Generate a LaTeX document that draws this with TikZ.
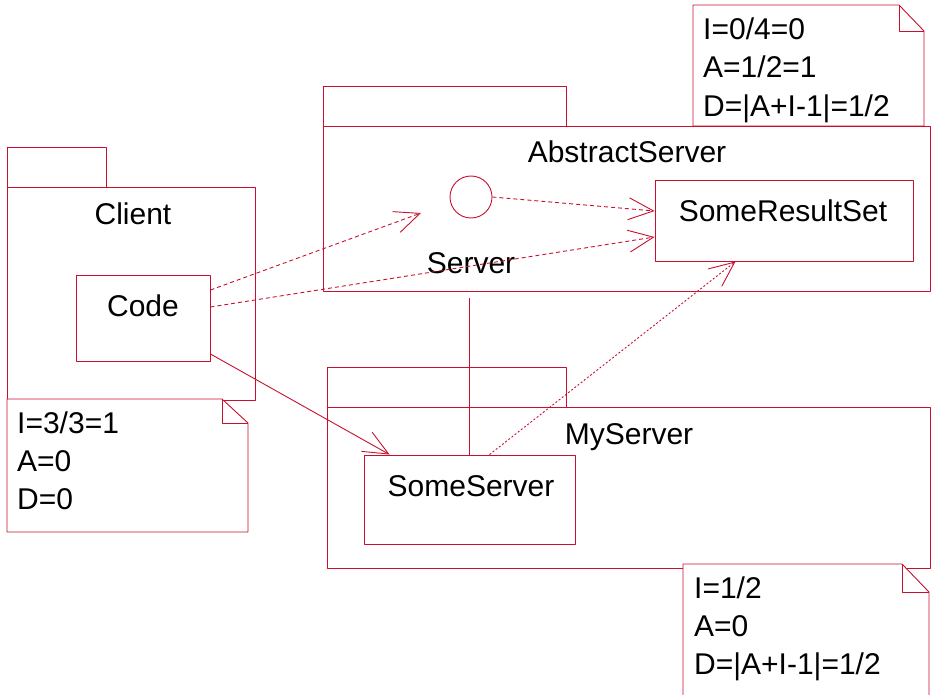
\documentclass[tikz,border=0pt]{standalone}
\usepackage{fontspec}
\setmainfont{Liberation Sans}
\usetikzlibrary{arrows.meta}
\definecolor{umlred}{RGB}{200,16,46}
\begin{document}
\begin{tikzpicture}[x=1pt, y=-1pt, line join=round, font=\fontsize{30}{36}\selectfont,
    >={Straight Barb[length=25pt,width=22pt]},
    uml/.style={draw=umlred, line width=0.9pt},
    cls/.style={uml, rectangle, inner sep=0pt},
    txt/.style={anchor=base, inner sep=0pt},
    ltxt/.style={anchor=base west, inner sep=0pt},
    dep/.style={uml, ->, dash pattern=on 4pt off 3pt},
    dotdep/.style={uml, ->, dash pattern=on 2pt off 2pt}]
    \useasboundingbox (0,0) rectangle (931,695);
    % packages
    \draw[uml] (7,147) rectangle (106,187) (7,187) rectangle (255,400);
    \draw[uml] (323,86) rectangle (566,126) (323,126) rectangle (930,291);
    \draw[uml] (327,367) rectangle (566,407) (327,407) rectangle (930,568);
    \node[txt] (clientname) at (133,224) {Client};
    \node[txt] (abstractname) at (627,163) {AbstractServer};
    \node[txt] (myservername) at (629,444) {MyServer};
    % notes
    \draw[uml, fill=white] (7,399) -- (222,399) -- (248,423) -- (248,532) -- (7,532) -- cycle;
    \draw[uml] (222,399) -- (222,423) -- (248,423);
    \draw[uml, fill=white] (693,5) -- (899,5) -- (924,31) -- (924,126) -- (693,126) -- cycle;
    \draw[uml] (899,5) -- (899,31) -- (924,31);
    \draw[uml, fill=white] (683,564) -- (902,564) -- (929,592) -- (929,700) -- (683,700) -- cycle;
    \draw[uml] (902,564) -- (902,592) -- (929,592);
    \node[ltxt] (clientI) at (17,433) {I=3/3=1};
    \node[ltxt] (clientA) at (17,471) {A=0};
    \node[ltxt] (clientD) at (17,509) {D=0};
    \node[ltxt] (abstractI) at (703,40) {I=0/4=0};
    \node[ltxt] (abstractA) at (703,78) {A=1/2=1};
    \node[ltxt] (abstractD) at (703,117) {D=|A+I-1|=1/2};
    \node[ltxt] (myserverI) at (694,598) {I=1/2};
    \node[ltxt] (myserverA) at (694,636) {A=0};
    \node[ltxt] (myserverD) at (694,674) {D=|A+I-1|=1/2};
    % classes
    \node[cls, minimum width=134pt, minimum height=86pt] (code) at (143,318) {};
    \node[txt] (codename) at (143,316) {Code};
    \node[cls, minimum width=258pt, minimum height=81pt] (resultset) at (784,220.5) {};
    \node[txt] (resultsetname) at (783,221) {SomeResultSet};
    \node[cls, minimum width=211pt, minimum height=89pt] (someserver) at (469.5,499.5) {};
    \node[txt] (someservername) at (471,496) {SomeServer};
    \node[uml, circle, minimum size=42pt, inner sep=0pt] (server) at (471,197) {};
    \node[txt] (servername) at (471,273) {Server};
    \coordinate (servertip) at (421,213);
    \coordinate (serverfoot) at (469,298);
    % dependencies
    \draw[dep] ([yshift=28pt]code.east) -- (servertip);
    \draw[dep] ([yshift=11pt]code.east) -- ([yshift=-16.5pt]resultset.west);
    \draw[dep] (server.east) -- ([yshift=9.5pt]resultset.west);
    \draw[uml, ->] ([yshift=-36pt]code.east) -- ([xshift=26pt]someserver.north west);
    \draw[uml] (serverfoot) -- (serverfoot |- someserver.north);
    \draw[dotdep] ([xshift=20pt]someserver.north) -- ([xshift=81pt]resultset.south west);
\end{tikzpicture}
\end{document}
